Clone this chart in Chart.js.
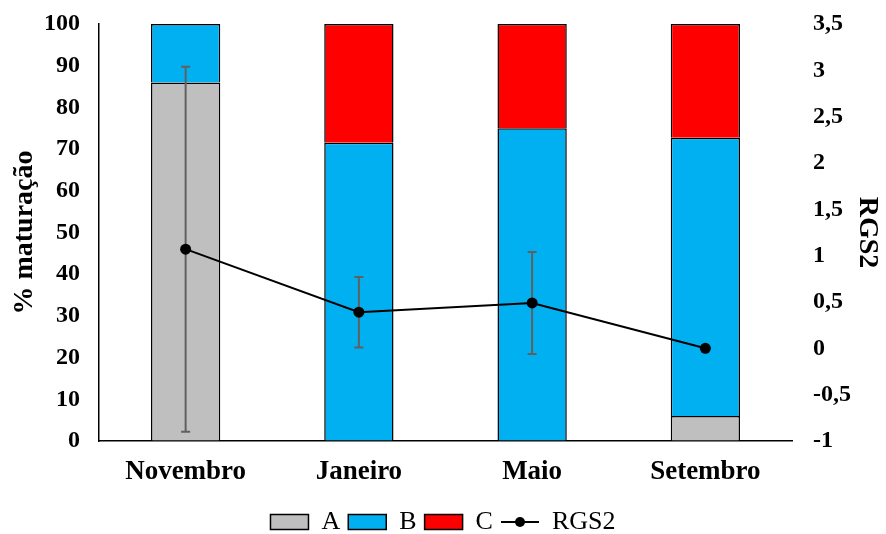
<!DOCTYPE html>
<html>
<head>
<meta charset="utf-8">
<script src="https://cdn.jsdelivr.net/npm/chart.js@4"></script>
<style>
  html, body { margin: 0; padding: 0; background: #fff; }
  #box { width: 886px; height: 534px; }
</style>
</head>
<body>
<div id="box"><canvas id="grafico"></canvas></div>
<script>
// === DADOS ===
const meses    = ['Novembro', 'Janeiro', 'Maio', 'Setembro'];
const estagioA = [86, 0, 0, 6];
const estagioB = [14, 71.5, 75, 66.7];
const estagioC = [0, 28.5, 25, 27.3];
const rgs2     = [1.07, 0.39, 0.49, 0.0];
const rgs2Erro = [1.97, 0.38, 0.55, 0];

const fonte = 'Liberation Serif, Times New Roman, serif';

// ícone da legenda da linha (traço com ponto)
const iconeLinha = document.createElement('canvas');
iconeLinha.width = 40; iconeLinha.height = 14;
(function () {
  const c = iconeLinha.getContext('2d');
  c.strokeStyle = '#000'; c.lineWidth = 2;
  c.beginPath(); c.moveTo(1, 7); c.lineTo(39, 7); c.stroke();
  c.fillStyle = '#000';
  c.beginPath(); c.arc(20, 7, 5, 0, Math.PI * 2); c.fill();
})();

// barras de erro desenhadas antes da linha
const barrasErro = {
  id: 'barrasErro',
  beforeDatasetDraw(chart, args) {
    if (args.index !== 3) return;
    const ctx = chart.ctx;
    const y1 = chart.scales.y1;
    const meta = chart.getDatasetMeta(3);
    ctx.save();
    ctx.strokeStyle = '#606060';
    ctx.lineWidth = 2;
    meta.data.forEach((pt, i) => {
      const e = rgs2Erro[i];
      if (!e) return;
      const topo = y1.getPixelForValue(rgs2[i] + e);
      const base = y1.getPixelForValue(rgs2[i] - e);
      ctx.beginPath();
      ctx.moveTo(pt.x, topo); ctx.lineTo(pt.x, base);
      ctx.moveTo(pt.x - 4.5, topo); ctx.lineTo(pt.x + 4.5, topo);
      ctx.moveTo(pt.x - 4.5, base); ctx.lineTo(pt.x + 4.5, base);
      ctx.stroke();
    });
    ctx.restore();
  }
};

const estiloBarra = { borderColor: '#000', borderWidth: 1.5, yAxisID: 'y', order: 1,
  barPercentage: 0.4, categoryPercentage: 1 };

// grade invisível, só para afastar os rótulos do eixo
const gradeEixoY = dist => ({ display: true, drawOnChartArea: false, drawTicks: true,
  tickLength: dist, tickColor: 'rgba(0,0,0,0)' });

new Chart(document.getElementById('grafico'), {
  type: 'bar',
  data: {
    labels: meses,
    datasets: [
      Object.assign({ label: 'A', data: estagioA, backgroundColor: '#bfbfbf' }, estiloBarra),
      Object.assign({ label: 'B', data: estagioB, backgroundColor: '#00b0f0' }, estiloBarra),
      Object.assign({ label: 'C', data: estagioC, backgroundColor: '#ff0000' }, estiloBarra),
      {
        type: 'line', label: 'RGS2', data: rgs2, yAxisID: 'y1', order: 0,
        borderColor: '#000', borderWidth: 2, backgroundColor: '#000',
        pointRadius: 5.5, pointBackgroundColor: '#000', pointBorderWidth: 0,
        pointStyle: 'circle'
      }
    ]
  },
  options: {
    responsive: true,
    maintainAspectRatio: false,
    animation: false,
    layout: { padding: { left: 0, right: 0, top: 24, bottom: -11 } },
    scales: {
      x: {
        stacked: true,
        grid: { display: false, drawTicks: false },
        border: { color: '#000', width: 1.5 },
        ticks: { color: '#000', padding: 15, font: { family: fonte, size: 27, weight: 'bold' } },
        afterFit: s => { s.height = 60; }
      },
      y: {
        stacked: true, min: 0, max: 100,
        grid: gradeEixoY(19),
        border: { color: '#000', width: 1.5 },
        ticks: { stepSize: 10, color: '#000', padding: 0, font: { family: fonte, size: 24, weight: 'bold' } },
        title: { display: true, text: '% maturação', color: '#000', padding: 8,
          font: { family: fonte, size: 28, weight: 'bold' } },
        afterFit: s => { s.width = 99; }
      },
      y1: {
        position: 'right', min: -1, max: 3.5,
        grid: gradeEixoY(21),
        border: { display: false },
        ticks: {
          stepSize: 0.5, color: '#000', padding: 0,
          font: { family: fonte, size: 24, weight: 'bold' },
          callback: v => String(v).replace('.', ',')
        },
        title: { display: true, text: 'RGS2', color: '#000', padding: 2,
          font: { family: fonte, size: 28, weight: 'bold' } },
        afterFit: s => { s.width = 94; }
      }
    },
    plugins: {
      tooltip: { enabled: false },
      legend: {
        position: 'bottom',
        labels: {
          color: '#000',
          font: { family: fonte, size: 26 },
          usePointStyle: true,
          pointStyleWidth: 38,
          boxHeight: 15,
          padding: 8,
          sort: (a, b) => a.datasetIndex - b.datasetIndex,
          generateLabels(chart) {
            return chart.data.datasets.map((ds, i) => ({
              text: ds.label,
              datasetIndex: i,
              fillStyle: ds.backgroundColor,
              strokeStyle: '#000',
              lineWidth: ds.type === 'line' ? 0 : 1.5,
              pointStyle: ds.type === 'line' ? iconeLinha : 'rect',
              fontColor: '#000',
              hidden: false
            }));
          }
        }
      }
    }
  },
  plugins: [barrasErro]
});
</script>
</body>
</html>
